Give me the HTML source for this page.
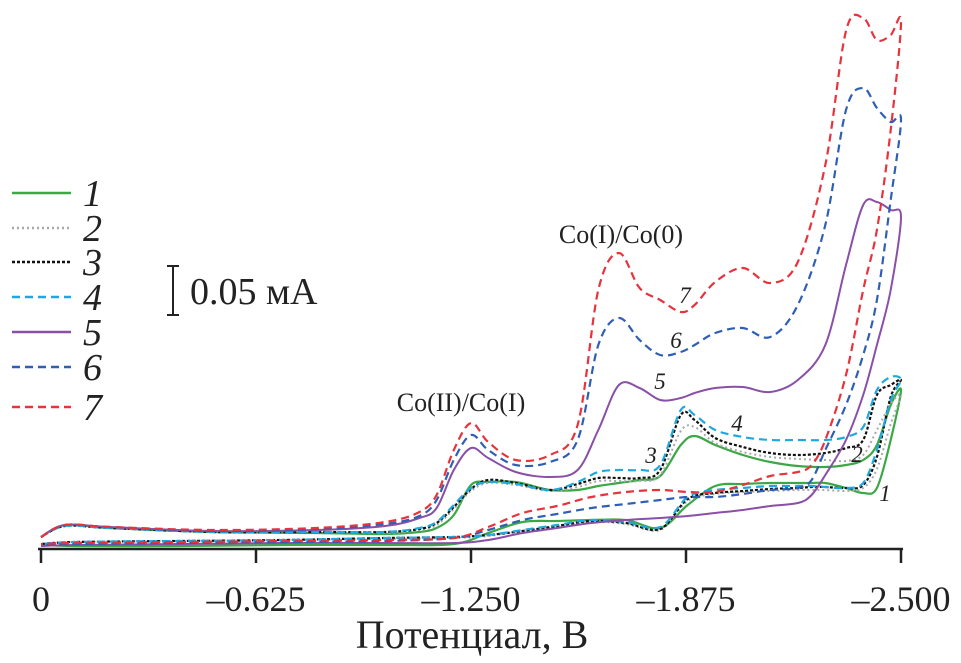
<!DOCTYPE html>
<html><head><meta charset="utf-8">
<style>
html,body{margin:0;padding:0;background:#fff;}
svg{display:block;font-family:"Liberation Serif",serif;}
</style></head>
<body>
<svg id="chart" width="961" height="663" viewBox="0 0 961 663" xmlns="http://www.w3.org/2000/svg">
  <g id="curves"></g>
  <g id="axis">
    <line x1="38" y1="549" x2="903" y2="549" stroke="#222" stroke-width="2.5"/>
  </g>
  <text x="472" y="648" font-size="40" text-anchor="middle" fill="#222">Потенциал, В</text>

  <text x="461" y="411" font-size="26" text-anchor="middle" fill="#222">Co(II)/Co(I)</text>
  <text x="621" y="243" font-size="26" text-anchor="middle" fill="#222">Co(I)/Co(0)</text>

  <g font-style="italic" font-size="23" fill="#222" text-anchor="middle">
    <text x="685" y="303">7</text>
    <text x="676" y="348">6</text>
    <text x="660" y="389">5</text>
    <text x="737" y="431">4</text>
    <text x="651" y="463">3</text>
    <text x="857" y="462">2</text>
    <text x="885" y="501">1</text>
  </g>

  <g stroke="#222" stroke-width="2">
    <line x1="173" y1="266" x2="173" y2="315"/>
    <line x1="167" y1="266" x2="179" y2="266"/>
    <line x1="167" y1="315" x2="179" y2="315"/>
  </g>
  <text x="190" y="304" font-size="38" fill="#222">0.05 мА</text>

  <g id="legend"></g>
</svg>
<script>
var svgNS = "http://www.w3.org/2000/svg";
// Potential grids (V, magnitude of negative potential)
var fwdE = [0,0.07,0.2,0.5,0.8,1.0,1.1,1.15,1.2,1.25,1.3,1.38,1.48,1.56,1.62,1.68,1.74,1.8,1.86,1.9,1.96,2.04,2.12,2.2,2.28,2.34,2.39,2.43,2.47,2.5];
var revE = [2.5,2.47,2.43,2.39,2.34,2.28,2.24,2.2,2.12,2.04,1.96,1.88,1.8,1.7,1.6,1.5,1.4,1.3,1.2,1.0,0.7,0.4,0.1,0];
// Currents (µA) forward scan
var fwd1 = [12,24,21,17,16,15,17,21,34,64,67,67,59,59,63,66,69,73,104,113,104,94,87,83,82,84,89,104,144,159];
var fwd2 = [12,23,21,17,17,16,19,24,40,58,66,64,58,62,68,68,68,74,118,122,106,97,92,90,89,88,94,119,145,154];
var fwd3 = [12,23,21,17,17,17,20,26,42,60,69,66,59,65,71,71,71,79,134,129,111,102,96,94,96,101,109,154,164,169];
var fwd4 = [12,23,21,17,17,17,21,27,44,61,67,65,59,67,77,79,79,84,139,134,119,112,109,109,109,112,122,159,172,169];
var fwd5 = [12,24,22,18,19,23,31,41,79,101,91,77,72,79,119,164,161,149,151,156,161,162,157,169,204,284,344,347,339,332];
var fwd6 = [12,24,22,18,20,25,33,49,89,114,99,84,87,109,204,231,209,194,197,204,216,221,212,244,324,439,461,441,427,429];
var fwd7 = [12,24,22,19,21,27,37,54,99,126,107,89,94,124,259,296,261,249,237,244,267,281,266,287,384,518,531,509,514,527];
// Currents (µA) reverse scan
var rev1 = [159,109,61,56,61,66,66,66,66,65,63,44,21,29,29,28,27,16,5,4,4,3,3,4];
var rev2 = [154,125,80,61,58,59,59,59,58,57,55,48,19,25,27,22,18,13,11,10,9,8,7,5];
var rev3 = [169,152,92,64,61,62,62,61,60,58,56,50,20,26,28,23,18,14,12,11,9,8,7,5];
var rev4 = [164,149,99,66,61,62,63,63,63,61,59,52,22,27,29,24,19,14,12,11,9,8,7,5];
var rev5 = [332,259,204,154,109,74,54,46,43,39,36,33,31,29,26,21,16,9,6,6,6,5,4,3];
var rev6 = [429,349,249,194,144,99,69,61,59,55,52,52,49,45,41,35,29,19,11,8,7,6,5,4];
var rev7 = [527,419,319,259,174,109,84,77,73,64,57,57,59,57,52,43,36,22,11,9,8,7,6,5];
var tickValues = [0,0.625,1.25,1.875,2.5];
var tickLabels = ["0","\u20130.625","\u20131.250","\u20131.875","\u20132.500"];
var seriesNames = ["1","2","3","4","5","6","7"];

function xScale(e){ return 41 + e * 344; }
function yScale(v){ return 549 - v * 1.0; }

var styles = [
  {c:"#3aa845", w:2.2, d:""},
  {c:"#a8a8a8", w:2, d:"2,3"},
  {c:"#111111", w:2.2, d:"3,2"},
  {c:"#1ea8e0", w:2.2, d:"8,5"},
  {c:"#8a4fa6", w:2, d:""},
  {c:"#2f5fb5", w:2.2, d:"8,5"},
  {c:"#e8323c", w:2.2, d:"8,5"}
];
var fwdAll = [fwd1,fwd2,fwd3,fwd4,fwd5,fwd6,fwd7];
var revAll = [rev1,rev2,rev3,rev4,rev5,rev6,rev7];

function crPath(pts){
  var d = "M" + pts[0][0].toFixed(1) + "," + pts[0][1].toFixed(1);
  for (var i = 0; i < pts.length - 1; i++) {
    var p0 = pts[i-1] || pts[i], p1 = pts[i], p2 = pts[i+1], p3 = pts[i+2] || p2;
    var c1x = p1[0] + (p2[0]-p0[0])/6, c1y = p1[1] + (p2[1]-p0[1])/6;
    var c2x = p2[0] - (p3[0]-p1[0])/6, c2y = p2[1] - (p3[1]-p1[1])/6;
    d += " C" + c1x.toFixed(1)+","+c1y.toFixed(1)+" "+c2x.toFixed(1)+","+c2y.toFixed(1)+" "+p2[0].toFixed(1)+","+p2[1].toFixed(1);
  }
  return d;
}

var gC = document.getElementById("curves");
for (var s = 0; s < 7; s++) {
  var pts = [];
  for (var i = 0; i < fwdE.length; i++) pts.push([xScale(fwdE[i]), yScale(fwdAll[s][i])]);
  for (var j = 1; j < revE.length; j++) pts.push([xScale(revE[j]), yScale(revAll[s][j])]);
  var p = document.createElementNS(svgNS, "path");
  p.setAttribute("d", crPath(pts));
  p.setAttribute("fill", "none");
  p.setAttribute("stroke", styles[s].c);
  p.setAttribute("stroke-width", styles[s].w);
  if (styles[s].d) p.setAttribute("stroke-dasharray", styles[s].d);
  
  
  gC.appendChild(p);
}

var gA = document.getElementById("axis");
for (var t = 0; t < tickValues.length; t++) {
  var x = xScale(tickValues[t]);
  var ln = document.createElementNS(svgNS, "line");
  ln.setAttribute("x1", x); ln.setAttribute("x2", x);
  ln.setAttribute("y1", 549); ln.setAttribute("y2", 563);
  ln.setAttribute("stroke", "#222"); ln.setAttribute("stroke-width", "2.5");
  
  
  gA.appendChild(ln);
  var tx = document.createElementNS(svgNS, "text");
  tx.setAttribute("x", x); tx.setAttribute("y", 611);
  tx.setAttribute("font-size", "36"); tx.setAttribute("text-anchor", "middle");
  tx.setAttribute("fill", "#222");
  tx.textContent = tickLabels[t];
  
  
  gA.appendChild(tx);
}

var gL = document.getElementById("legend");
var legY = [193,228,262,297,332,367,407];
for (var k = 0; k < 7; k++) {
  var l = document.createElementNS(svgNS, "line");
  l.setAttribute("x1", 12); l.setAttribute("x2", 71);
  l.setAttribute("y1", legY[k]); l.setAttribute("y2", legY[k]);
  l.setAttribute("stroke", styles[k].c); l.setAttribute("stroke-width", 2.5);
  if (styles[k].d) l.setAttribute("stroke-dasharray", styles[k].d);
  
  
  gL.appendChild(l);
  var lt = document.createElementNS(svgNS, "text");
  lt.setAttribute("x", 83); lt.setAttribute("y", legY[k] + 13);
  lt.setAttribute("font-size", "38"); lt.setAttribute("font-style", "italic");
  lt.setAttribute("fill", "#222");
  lt.textContent = seriesNames[k];
  
  
  gL.appendChild(lt);
}
</script>
</body></html>
